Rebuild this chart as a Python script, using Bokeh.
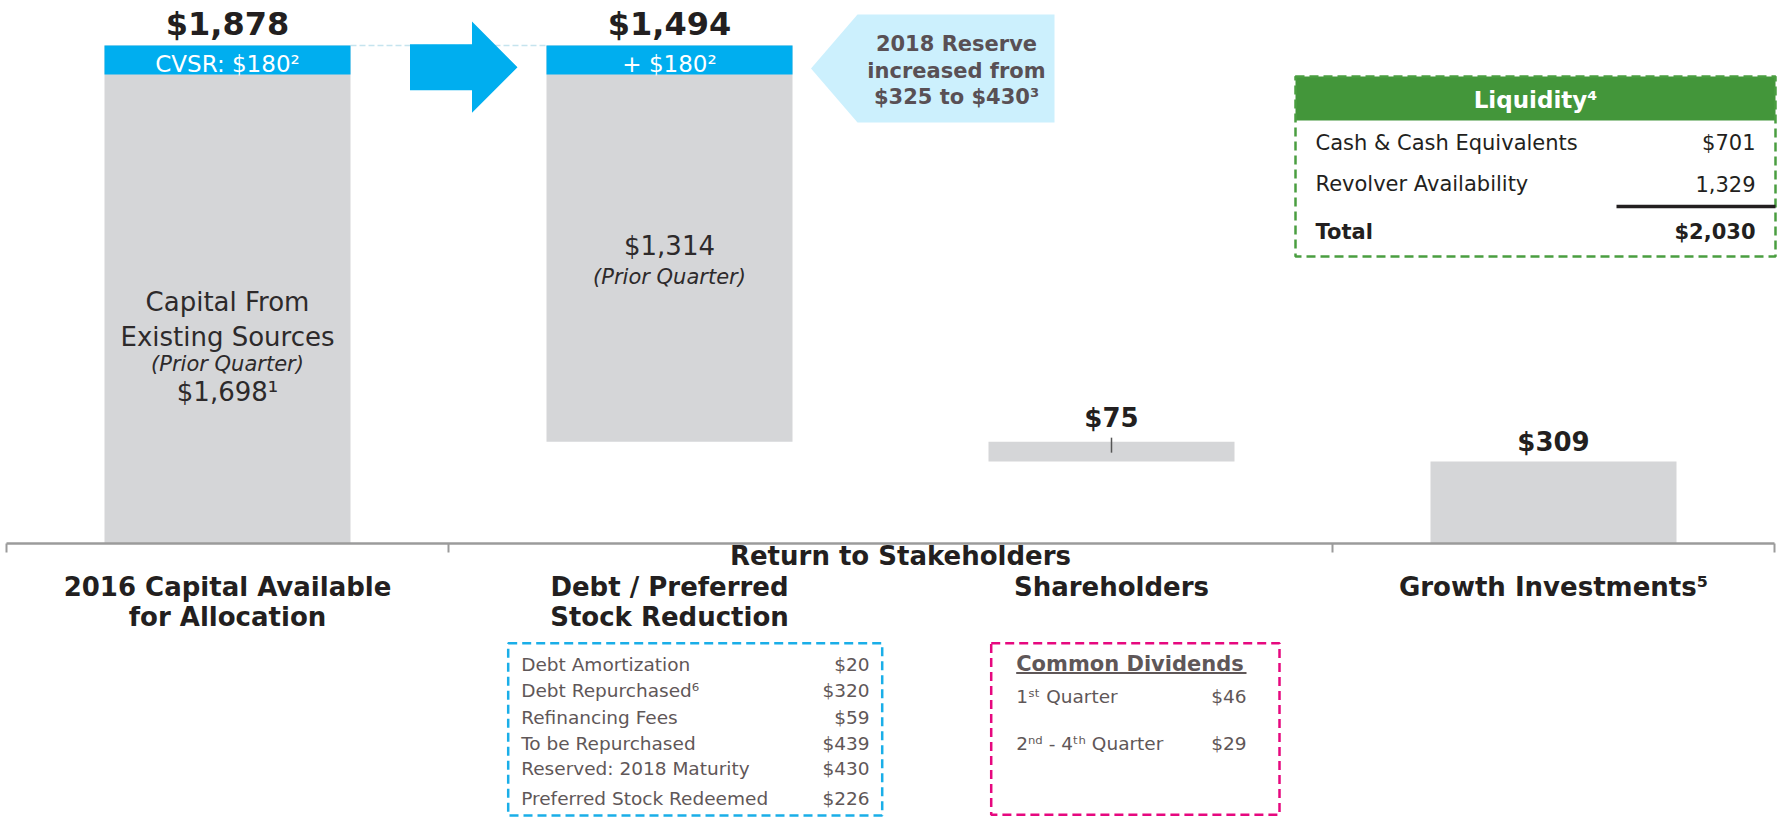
from bokeh.plotting import figure
from bokeh.models import Range1d
from bokeh.embed import file_html
from bokeh.resources import INLINE
from bokeh.core.properties import value

# ---------------- data ----------------
categories = ["2016 Capital Available", "Debt / Preferred Stock Reduction", "Shareholders", "Growth Investments"]
cat_label_lines = [["2016 Capital Available", "for Allocation"],
                   ["Debt / Preferred", "Stock Reduction"],
                   ["Shareholders"],
                   ["Growth Investments\u2075"]]
group_label = "Return to Stakeholders"
capital_total = 1878
capital_existing = 1698
cvsr = 180
debt_reduction = 1494
debt_prior = 1314
shareholders = 75
growth = 309
top_labels = ["$1,878", "$1,494", "$75", "$309"]

liq_labels = ["Cash & Cash Equivalents", "Revolver Availability", "Total"]
liq_values = ["$701", "1,329", "$2,030"]

debt_items = ["Debt Amortization", "Debt Repurchased\u2076", "Refinancing Fees",
              "To be Repurchased", "Reserved: 2018 Maturity", "Preferred Stock Redeemed"]
debt_values = ["$20", "$320", "$59", "$439", "$430", "$226"]

div_items = ["1\u02e2\u1d57 Quarter", "2\u207f\u1d48 - 4\u1d57\u02b0 Quarter"]
div_values = ["$46", "$29"]

callout_lines = ["2018 Reserve", "increased from", "$325 to $430\u00b3"]

# ---------------- layout helpers (picture pixels -> data) ----------------
W, H = 1781, 818
PX_PER_CAT = 442.0
XS = -227.0 / PX_PER_CAT
AXIS_PY = 543
TOP_PY = 45
K = capital_total / (AXIS_PY - TOP_PY)   # data units per pixel


def X(px):
    return XS + px / PX_PER_CAT


def Y(py):
    return (AXIS_PY - py) * K


FONT = value("DejaVu Sans")
DARK = "#231f20"
GRAY_TXT = "#5f5758"
BAR_GRAY = "#d5d6d8"
BLUE = "#00aeef"

p = figure(width=W, height=H, output_backend="svg", toolbar_location=None,
           x_range=Range1d(XS, XS + W / PX_PER_CAT), y_range=Range1d(Y(H), Y(0)),
           min_border=0, outline_line_color=None, background_fill_color="white")
p.xaxis.visible = False
p.yaxis.visible = False
p.xgrid.visible = False
p.ygrid.visible = False


def txt(x, y, s, size, color=DARK, style="normal", align="center", baseline="middle"):
    p.text(x=[x], y=[y], text=[s], text_font=FONT, text_font_size=f"{size}px",
           text_font_style=style, text_color=color, text_align=align, text_baseline=baseline)


# ---------------- bars (waterfall) ----------------
idx = list(range(len(categories)))
tops = [capital_total, capital_total, capital_total - debt_reduction, capital_total - debt_reduction - shareholders]
bottoms = [0, capital_total - debt_reduction, capital_total - debt_reduction - shareholders, 0]
BAR_W = 246 / PX_PER_CAT

# dashed connector between the two tall bars
p.line(x=[idx[0] + BAR_W / 2, idx[1] - BAR_W / 2], y=[capital_total, capital_total],
       line_color="#c5e4ee", line_width=1.5, line_dash="6 3")

p.vbar(x=idx, top=tops, bottom=bottoms, width=BAR_W, fill_color=BAR_GRAY, line_color=None)

# blue CVSR band on top of first two bars (fixed thickness highlight)
BAND_PX = 29
p.vbar(x=idx[:2], top=[capital_total, capital_total], bottom=[capital_total - BAND_PX * K] * 2,
       width=BAR_W, fill_color=BLUE, line_color=None)

# band labels
txt(idx[0], capital_total - 18 * K, f"CVSR: ${cvsr}\u00b2", 23, "white")
txt(idx[1], capital_total - 18 * K, f"+ ${cvsr}\u00b2", 23, "white")

# top value labels
txt(idx[0], tops[0] + 22 * K, top_labels[0], 32, style="bold")
txt(idx[1], tops[1] + 22 * K, top_labels[1], 32, style="bold")
txt(idx[2], tops[2] + 24 * K, top_labels[2], 26, style="bold")
txt(idx[3], tops[3] + 20 * K, top_labels[3], 26, style="bold")
# small tick under $75
p.segment(x0=[idx[2]], y0=[tops[2] + 4 * K], x1=[idx[2]], y1=[tops[2] - 11 * K],
          line_color="#555555", line_width=1.5)

# text inside bar 1
txt(idx[0], Y(301.7), "Capital From", 26, "#2d2a2b")
txt(idx[0], Y(336.7), "Existing Sources", 26, "#2d2a2b")
txt(idx[0], Y(363), "(Prior Quarter)", 21, "#2d2a2b", style="italic")
txt(idx[0], Y(391.7), f"${capital_existing:,}\u00b9", 26, "#2d2a2b")
# text inside bar 2
txt(idx[1], Y(245), f"${debt_prior:,}", 26, "#2d2a2b")
txt(idx[1], Y(276.7), "(Prior Quarter)", 21, "#2d2a2b", style="italic")

# ---------------- arrow ----------------
arrow_px = [(409.5, 43.7), (471.5, 43.7), (471.5, 21), (517, 66.7), (471.5, 112.3), (471.5, 89.7), (409.5, 89.7)]
p.patch(x=[X(a) for a, b in arrow_px], y=[Y(b) for a, b in arrow_px], fill_color=BLUE, line_color=None)

# ---------------- callout ----------------
call_px = [(810.5, 68), (857, 14), (1054, 14), (1054, 122), (857, 122)]
p.patch(x=[X(a) for a, b in call_px], y=[Y(b) for a, b in call_px], fill_color="#ccf0fd", line_color=None)
for line, py in zip(callout_lines, [43, 70, 96]):
    txt(X(956), Y(py), line, 21, "#595055", style="bold")

# ---------------- axis ----------------
p.segment(x0=[-0.5], y0=[0], x1=[3.5], y1=[0], line_color="#9b9b9b", line_width=2.5)
for b in [-0.5, 0.5, 2.5, 3.5]:
    p.segment(x0=[b], y0=[0], x1=[b], y1=[-9 * K], line_color="#9b9b9b", line_width=2)

# category labels
for i, lines in zip(idx, cat_label_lines):
    for j, line in enumerate(lines):
        txt(i, Y(586 + 30 * j), line, 26, style="bold")
txt(X(900), Y(555), group_label, 26, style="bold")

# ---------------- liquidity box ----------------
LX0, LX1, LY0, LY1 = 1295, 1775, 76, 256
p.quad(left=[X(LX0)], right=[X(LX1)], top=[Y(LY0)], bottom=[Y(120)], fill_color="#43963a", line_color=None)
p.quad(left=[X(LX0)], right=[X(LX1)], top=[Y(LY0)], bottom=[Y(LY1)], fill_color=None,
       line_color="#4a9e40", line_width=2.5, line_dash="9 5")
txt(X(1535), Y(99), "Liquidity\u2074", 23, "white", style="bold")
for lab, val, py in zip(liq_labels, liq_values, [142, 183, 231]):
    st = "bold" if lab == "Total" else "normal"
    txt(X(1315), Y(py), lab, 21, DARK, style=st, align="left")
    txt(X(1755), Y(py), val, 21, DARK, style=st, align="right")
p.segment(x0=[X(1616)], y0=[Y(206)], x1=[X(1775)], y1=[Y(206)], line_color=DARK, line_width=3.5)

# ---------------- debt box ----------------
p.quad(left=[X(507.7)], right=[X(881.7)], top=[Y(642.7)], bottom=[Y(815)], fill_color=None,
       line_color="#1aaee8", line_width=2.5, line_dash="9 5")
for lab, val, py in zip(debt_items, debt_values, [664.3, 690, 716.7, 742.7, 768.3, 798.3]):
    txt(X(520.7), Y(py), lab, 18.5, GRAY_TXT, align="left")
    txt(X(869), Y(py), val, 18.5, GRAY_TXT, align="right")

# ---------------- dividends box ----------------
p.quad(left=[X(990.7)], right=[X(1279)], top=[Y(642.7)], bottom=[Y(814.3)], fill_color=None,
       line_color="#e6087f", line_width=2.5, line_dash="9 5")
txt(X(1015.7), Y(663), "Common Dividends", 21, GRAY_TXT, style="bold", align="left")
p.segment(x0=[X(1015.7)], y0=[Y(672.5)], x1=[X(1246)], y1=[Y(672.5)], line_color=GRAY_TXT, line_width=2)
for lab, val, py in zip(div_items, div_values, [696, 742.7]):
    txt(X(1015.7), Y(py), lab, 18.5, GRAY_TXT, align="left")
    txt(X(1246), Y(py), val, 18.5, GRAY_TXT, align="right")

open("out.html", "w").write(file_html(p, INLINE))
